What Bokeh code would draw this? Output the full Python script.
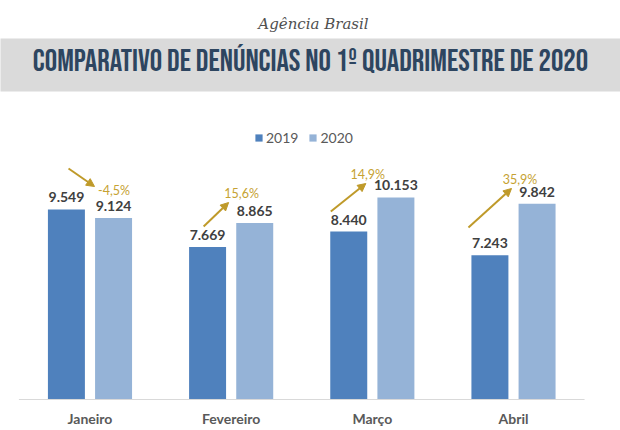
from bokeh.plotting import figure
from bokeh.models import (ColumnDataSource, Range1d, Legend, LegendItem,
                          LabelSet, Label, BoxAnnotation, Arrow, NormalHead)
from bokeh.transform import dodge
from bokeh.core.properties import value
from bokeh.embed import file_html
from bokeh.resources import INLINE

# ---- data ----
months = ["Janeiro", "Fevereiro", "Março", "Abril"]
v2019 = [9549, 7669, 8440, 7243]
v2020 = [9124, 8865, 10153, 9842]
pct_labels = ["-4,5%", "15,6%", "14,9%", "35,9%"]
series = ["2019", "2020"]
title_text = "COMPARATIVO DE DENÚNCIAS NO 1º QUADRIMESTRE DE 2020"
source_text = "Agência Brasil"

# ---- annotation placement (offsets within category, value units) ----
arrow_x0_off = [-0.152, -0.195, -0.294, -0.319]
arrow_y0 = [11608, 8693, 9447, 8643]
arrow_x1_off = [0.032, -0.018, -0.046, -0.014]
arrow_y1 = [10704, 9899, 10854, 10603]
pct_x_off = [0.170, 0.074, -0.032, 0.046]
pct_y = [10503, 10352, 11307, 11055]

C19 = "#4f81bd"
C20 = "#95b3d7"
GOLD = "#bf9a2a"
GOLD_TXT = "#c6a232"
FONT = "Lato"


def fmt(v):
    return f"{v:,}".replace(",", ".")


# category slots 0..n-1, centre at i + 0.5
xc = [i + 0.5 for i in range(len(months))]

src = ColumnDataSource(dict(month=months, xc=xc, v2019=v2019, v2020=v2020,
                            l2019=[fmt(v) for v in v2019],
                            l2020=[fmt(v) for v in v2020]))

W, H = 620, 430
p = figure(x_range=Range1d(-0.1339, 4.258), y_range=Range1d(-1558, 20050),
           width=W, height=H, output_backend="svg", toolbar_location=None,
           x_axis_location=None, y_axis_location=None,
           min_border_left=0, min_border_right=0, min_border_top=0, min_border_bottom=0)
p.xgrid.visible = False
p.ygrid.visible = False
p.outline_line_color = None
p.background_fill_color = "white"
p.border_fill_color = "white"

r1 = p.vbar(x=dodge("xc", -0.167), top="v2019", width=0.262,
            source=src, fill_color=C19, line_color=None)
r2 = p.vbar(x=dodge("xc", 0.167), top="v2020", width=0.262,
            source=src, fill_color=C20, line_color=None)

for off, col, lab in [(-0.167, "v2019", "l2019"), (0.167, "v2020", "l2020")]:
    p.text(x=dodge("xc", off), y=col, text=lab, source=src,
           text_align="center", text_baseline="bottom", y_offset=-7,
           text_font=value(FONT), text_font_style="bold", text_font_size="14px",
           text_color="#404040")

# baseline (category axis line)
p.segment(x0=[-0.0035], x1=[4.0035], y0=[0], y1=[0], line_color="#d9d9d9", line_width=1)

# percent labels and arrows
ann = ColumnDataSource(dict(
    px=[c + o for c, o in zip(xc, pct_x_off)], py=pct_y, pt=pct_labels,
    x0=[c + o for c, o in zip(xc, arrow_x0_off)], y0=arrow_y0,
    x1=[c + o for c, o in zip(xc, arrow_x1_off)], y1=arrow_y1))
p.text(x="px", y="py", text="pt", source=ann, text_align="center", text_baseline="middle",
       text_font=value(FONT), text_font_size="12.5px", text_color=GOLD_TXT)
p.add_layout(Arrow(end=NormalHead(size=8, fill_color=GOLD, line_color=GOLD),
                   x_start="x0", y_start="y0", x_end="x1", y_end="y1", source=ann,
                   line_color=GOLD, line_width=2))

# category labels
cat_src = ColumnDataSource(dict(month=months, xc=xc, y=[12] * len(months)))
p.add_layout(LabelSet(x="xc", y="y", y_units="screen", text="month", source=cat_src,
                      text_align="center", text_baseline="middle",
                      text_font=value(FONT), text_font_style="bold", text_font_size="14px",
                      text_color="#595959"))

# legend
legend = Legend(items=[LegendItem(label=series[0], renderers=[r1]),
                       LegendItem(label=series[1], renderers=[r2])],
                location=(254, 284), orientation="horizontal",
                glyph_width=9, glyph_height=9, label_height=9, label_standoff=3,
                spacing=10, padding=0, margin=0, border_line_color=None,
                background_fill_alpha=0, label_text_font=FONT,
                label_text_font_size="14px", label_text_color="#595959")
p.add_layout(legend)

# header banner
p.add_layout(BoxAnnotation(left=-1, right=W + 1, bottom=H - 91, top=H - 38,
                           left_units="screen", right_units="screen",
                           bottom_units="screen", top_units="screen",
                           fill_color="#dadada", fill_alpha=1, line_alpha=0))
p.add_layout(Label(x=310, y=H - 61, x_units="screen", y_units="screen",
                   text=title_text, text_align="center", text_baseline="middle",
                   text_font="Bebas Neue", text_font_style="normal",
                   text_font_size="31px", text_color="#2d4560"))
p.add_layout(Label(x=313, y=H - 23, x_units="screen", y_units="screen",
                   text=source_text, text_align="center", text_baseline="middle",
                   text_font="DejaVu Serif", text_font_style="italic",
                   text_font_size="15px", text_color="#505050"))

open("out.html", "w").write(file_html(p, INLINE))
